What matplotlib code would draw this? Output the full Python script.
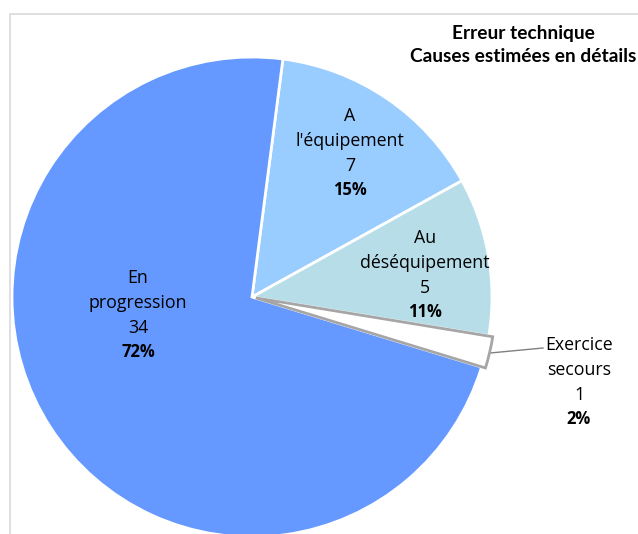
import matplotlib
matplotlib.use("Agg")
import matplotlib.pyplot as plt
from matplotlib.patches import Rectangle

# Data
categories = ["A\nl'équipement", "Au\ndéséquipement", "Exercice\nsecours", "En\nprogression"]
values = [7, 5, 1, 34]
colors = ["#99CCFF", "#B7DEE8", "#FFFFFF", "#6699FF"]
title_lines = ["Erreur technique", "Causes estimées en détails"]

# Layout (pixel coordinates, y from top)
W, H = 638, 534
center_px = (252, 297)
radius = 240
explode = [0, 0, 4, 0]
start_angle = 82.6
label_pos = [(350, 116), (425, 238), (579, 345), (138, 278)]
line_step = 25
FONT = "Open Sans"
TFONT = "Lato"

fig = plt.figure(figsize=(W / 100, H / 100), dpi=100)
ax = fig.add_axes([0, 0, 1, 1])

def Y(y):
    return H - y

wedges, _ = ax.pie(values, colors=colors, startangle=start_angle, counterclock=False,
                   center=(center_px[0], Y(center_px[1])), radius=radius, explode=explode,
                   wedgeprops=dict(edgecolor="white", linewidth=2), frame=True)
ax.set_xlim(0, W)
ax.set_ylim(0, H)
ax.set_aspect("equal")
ax.axis("off")
wedges[2].set_edgecolor("#A6A6A6")
wedges[2].set_linewidth(2)
wedges[2].set_zorder(3)

# chart frame
ax.add_patch(Rectangle((10, Y(600)), 700, 600 - 14, fill=False, edgecolor="#D9D9D9", lw=1.2))

total = sum(values)
for cat, v, (lx, ly) in zip(categories, values, label_pos):
    lines = cat.split("\n") + [str(v)]
    for i, t in enumerate(lines):
        ax.text(lx, Y(ly + i * line_step), t, ha="center", va="center", fontsize=12.8,
                family=FONT, color="#000000")
    ax.text(lx, Y(ly + len(lines) * line_step - 1), f"{round(100 * v / total)}%", ha="center",
            va="center", fontsize=12, family=FONT, fontweight="bold")

# leader line for small slice
ax.plot([490, 543], [Y(353), Y(348)], color="#808080", lw=1)

ax.text(523, Y(33), title_lines[0], ha="center", va="center", fontsize=13.8, fontweight="bold", family=TFONT)
ax.text(523, Y(57), title_lines[1], ha="center", va="center", fontsize=13.8, fontweight="bold", family=TFONT)

fig.savefig("out.png", dpi=100)
